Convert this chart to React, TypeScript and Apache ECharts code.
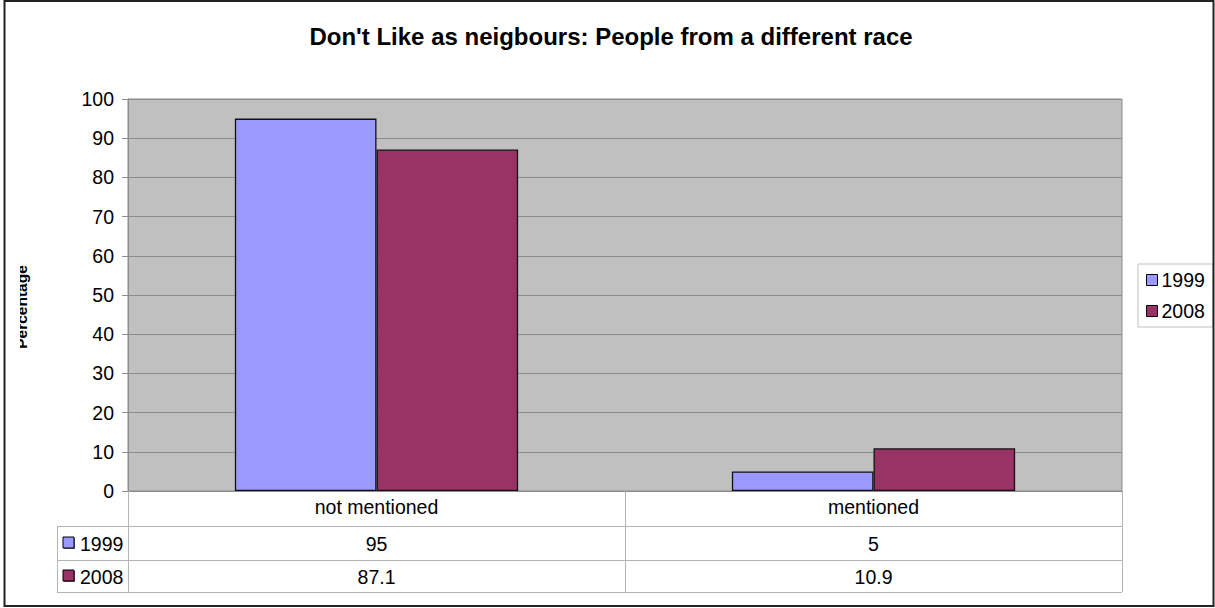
import React, { useEffect, useRef } from "react";
import * as echarts from "echarts";

// Survey answers, percent of respondents
const categories = ["not mentioned", "mentioned"];
const years = ["1999", "2008"];
const values1999 = [95, 5];
const values2008 = [87.1, 10.9];
const colors = ["#9999ff", "#993366"];
const yTicks = { min: 0, max: 100, interval: 10 };

const titleText = "Don't Like as neigbours: People from a different race";
const yName = "Percentage";

// Frame of the plot and its data table (pixels)
const W = 1215;
const H = 608;
const plotLeft = 128;
const plotRight = 1122;
const plotTop = 99;
const plotBottom = 491;
const tableLeft = 57;
const rowLines = [526, 560, 592];
const FONT = "Liberation Sans, Arial, sans-serif";
const FS = 19.5;
const tableLine = "#b4b4b4";

export default function App() {
  const ref = useRef<HTMLDivElement>(null);

  useEffect(() => {
    if (!ref.current) return;
    const chart = echarts.init(ref.current, null, { renderer: "svg" });

    const series = [values1999, values2008];
    const catWidth = (plotRight - plotLeft) / categories.length;

    const graphics: any[] = [];

    // y-axis name, its upper half hidden by the chart edge
    graphics.push({
      type: "text",
      x: 21.5,
      y: 307,
      rotation: Math.PI / 2,
      style: {
        text: yName,
        font: `bold 15.5px ${FONT}`,
        fill: "#000",
        align: "center",
        verticalAlign: "middle",
      },
      z: 10,
    });
    graphics.push({
      type: "rect",
      shape: { x: 6, y: 250, width: 14, height: 120 },
      style: { fill: "#fff" },
      z: 11,
    });

    // outer frame
    graphics.push({
      type: "rect",
      shape: { x: 4.5, y: 1, width: 1209, height: 605 },
      style: { fill: "none", stroke: "#222", lineWidth: 2 },
      z: 12,
    });

    // data table grid
    const line = (x1: number, y1: number, x2: number, y2: number) => ({
      type: "line",
      shape: { x1, y1, x2, y2 },
      style: { stroke: tableLine, lineWidth: 1 },
      z: 5,
    });
    rowLines.forEach((y) => graphics.push(line(tableLeft, y + 0.5, plotRight, y + 0.5)));
    graphics.push(line(tableLeft + 0.5, rowLines[0], tableLeft + 0.5, rowLines[2]));
    for (let i = 0; i <= categories.length; i++) {
      const x = Math.round(plotLeft + catWidth * i) + 0.5;
      graphics.push(line(x, plotBottom, x, rowLines[2]));
    }

    // row headers with colour keys
    years.forEach((yr, i) => {
      const cy = (rowLines[i] + rowLines[i + 1]) / 2;
      graphics.push({
        type: "rect",
        shape: { x: 64, y: cy - 5, width: 11, height: 11 },
        style: { fill: "#666", stroke: "none" },
        z: 5,
      });
      graphics.push({
        type: "rect",
        shape: { x: 63, y: cy - 6, width: 11, height: 11 },
        style: { fill: colors[i], stroke: "#000", lineWidth: 1 },
        z: 6,
      });
      graphics.push({
        type: "text",
        x: 80,
        y: cy + 1,
        style: {
          text: yr,
          font: `${FS}px ${FONT}`,
          fill: "#000",
          verticalAlign: "middle",
        },
        z: 6,
      });
    });

    const tableAxis = (vals: number[], offset: number, idx: number) => ({
      type: "category",
      gridIndex: 0,
      position: "bottom",
      offset,
      data: vals.map((v) => String(v)),
      axisLine: { show: false },
      axisTick: { show: false },
      axisLabel: { fontSize: FS, color: "#000", fontFamily: FONT, margin: 6 },
      id: "row" + idx,
    });

    chart.setOption({
      animation: false,
      backgroundColor: "#fff",
      title: {
        text: titleText,
        left: 606,
        top: 19,
        textAlign: "center",
        textStyle: { fontSize: 24, fontWeight: "bold", color: "#000", fontFamily: FONT },
      },
      legend: {
        data: years,
        orient: "vertical",
        left: 1138,
        top: 264,
        padding: [6, 8, 6, 8],
        itemGap: 11,
        itemWidth: 11,
        itemHeight: 11,
        icon: "rect",
        borderColor: "#c0c0c0",
        borderWidth: 1,
        itemStyle: { borderColor: "#000", borderWidth: 1 },
        textStyle: { fontSize: FS, color: "#000", fontFamily: FONT, padding: [0, 0, 0, -1] },
      },
      grid: {
        left: plotLeft,
        right: W - plotRight,
        top: plotTop,
        bottom: H - plotBottom,
        show: true,
        backgroundColor: "#c0c0c0",
        borderColor: "#8c8c8c",
        borderWidth: 1,
      },
      xAxis: [
        {
          type: "category",
          data: categories,
          axisLine: { show: true, lineStyle: { color: "#8c8c8c" } },
          axisTick: { show: false },
          axisLabel: { fontSize: FS, color: "#000", fontFamily: FONT, margin: 6 },
        },
        tableAxis(values1999, rowLines[0] - plotBottom + 2, 0),
        tableAxis(values2008, rowLines[1] - plotBottom + 1, 1),
      ],
      yAxis: {
        type: "value",
        min: yTicks.min,
        max: yTicks.max,
        interval: yTicks.interval,
        axisLine: { show: true, lineStyle: { color: "#8c8c8c" } },
        axisTick: { show: true, length: 6, lineStyle: { color: "#8c8c8c" } },
        axisLabel: { fontSize: FS, color: "#000", fontFamily: FONT, margin: 14 },
        splitLine: { show: true, lineStyle: { color: "#8c8c8c", width: 1 } },
      },
      series: years.map((yr, i) => ({
        name: yr,
        type: "bar",
        data: series[i],
        barGap: "0%",
        barCategoryGap: "43%",
        itemStyle: { color: colors[i], borderColor: "#111", borderWidth: 1.3 },
      })),
      graphic: graphics,
    });

    return () => chart.dispose();
  }, []);

  return (
    <div
      ref={ref}
      style={{ position: "fixed", left: 0, top: 0, width: W, height: H }}
    />
  );
}
